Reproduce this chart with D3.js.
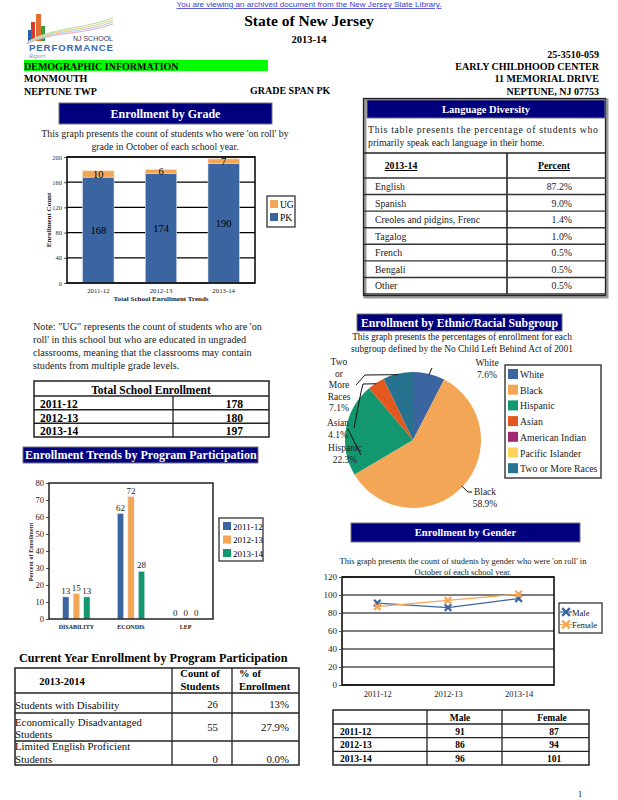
<!DOCTYPE html>
<html><head><meta charset="utf-8">
<script src="https://cdn.jsdelivr.net/npm/d3@7"></script>
<style>
html,body{margin:0;padding:0;background:#fff;}
svg{display:block;font-family:"Liberation Serif","Times New Roman",serif;}
</style></head><body>
<svg id="page" width="618" height="800"></svg>
<script>
// ---------- DATA ----------
const years = ["2011-12", "2012-13", "2013-14"];
const pkCounts = [168, 174, 190];
const ugCounts = [10, 6, 7];
const gradeTicks = [0, 40, 80, 120, 160, 200];
const totalEnrollment = [178, 180, 197];

const languages = ["English", "Spanish", "Creoles and pidgins, Frenc", "Tagalog", "French", "Bengali", "Other"];
const languagePct = ["87.2%", "9.0%", "1.4%", "1.0%", "0.5%", "0.5%", "0.5%"];

const programs = ["DISABILITY", "ECONDIS", "LEP"];
const program2011 = [13, 62, 0];
const program2012 = [15, 72, 0];
const program2013 = [13, 28, 0];
const programTicks = [0, 10, 20, 30, 40, 50, 60, 70, 80];

const ethnicGroups = ["White", "Black", "Hispanic", "Asian", "American Indian", "Pacific Islander", "Two or More Races"];
const ethnicPct = [7.6, 58.9, 22.3, 4.1, 0, 0, 7.1];

const maleCounts = [91, 86, 96];
const femaleCounts = [87, 94, 101];
const genderTicks = [0, 20, 40, 60, 80, 100, 120];

const currentPrograms = [["Students with Disability"], ["Economically Disadvantaged", "Students"], ["Limited English Proficient", "Students"]];
const currentCounts = [26, 55, 0];
const currentPct = ["13%", "27.9%", "0.0%"];

// ---------- STYLE ----------
const C = {
  blue: "#3b65a0", orange: "#f4a657", green: "#13976f", asian: "#e2581f",
  amind: "#a3286f", pacific: "#fdd25a", two: "#27728f", navy: "#00007f", frame: "#333"
};
const ethnicColors = [C.blue, C.orange, C.green, C.asian, C.amind, C.pacific, C.two];
const yearColors = [C.blue, C.orange, C.green];

const svg = d3.select("#page");
svg.append("rect").attr("width", 618).attr("height", 800).attr("fill", "#fff");

function txt(g, x, y, s, o = {}) {
  const t = g.append("text").attr("x", x).attr("y", y).text(s)
    .attr("font-size", o.size || 10)
    .attr("text-anchor", o.anchor || "start")
    .attr("fill", o.fill || "#000");
  if (o.bold) t.attr("font-weight", "bold");
  if (o.family) t.attr("font-family", o.family);
  if (o.underline) t.attr("text-decoration", "underline");
  if (o.italic) t.attr("font-style", "italic");
  if (o.len) t.attr("textLength", o.len).attr("lengthAdjust", "spacing");
  return t;
}
function line(g, x1, y1, x2, y2, w = 1.3, c = C.frame) {
  return g.append("line").attr("x1", x1).attr("y1", y1).attr("x2", x2).attr("y2", y2)
    .attr("stroke", c).attr("stroke-width", w);
}
function box(g, x, y, w, h, o = {}) {
  return g.append("rect").attr("x", x).attr("y", y).attr("width", w).attr("height", h)
    .attr("fill", o.fill || "none").attr("stroke", o.stroke || "none").attr("stroke-width", o.sw || 1);
}
function header(g, x, y, w, h, s, size, anchor = "middle") {
  box(g, x, y, w, h, { fill: C.navy, stroke: "#777", sw: 1 });
  const tx = anchor === "middle" ? x + w / 2 : x + 2;
  const clipId = "clip" + Math.round(x) + "_" + Math.round(y);
  g.append("clipPath").attr("id", clipId).append("rect").attr("x", x).attr("y", y).attr("width", w).attr("height", h);
  txt(g, tx, y + h / 2 + size * 0.36, s, { size, bold: true, fill: "#fff", anchor }).attr("clip-path", `url(#${clipId})`);
}

// ---------- PAGE HEADER ----------
const gTop = svg.append("g");
txt(gTop, 309, 7, "You are viewing an archived document from the New Jersey State Library.",
  { size: 8.1, anchor: "middle", fill: "#3a3ad8", family: "Liberation Sans, Arial, sans-serif", underline: true });

// logo
const logo = gTop.append("g");
[["#d43b2a", 31, 22, 4], ["#e36d2f", 36, 14, 5], ["#3c9b3a", 41, 26, 4], ["#2a5fb0", 28, 30, 3]].forEach(b => {
  box(logo, b[1], b[2], b[3], 41 - b[2], { fill: b[0] });
});
["#f0b0c0", "#a8d0f0", "#f3d080", "#c0e0b0"].forEach((c, i) => {
  logo.append("path").attr("d", `M${26 + i} ${44 - i} C 55 ${30 - i}, 80 ${36 - i * 2}, 113 ${24 - i * 2}`)
    .attr("fill", "none").attr("stroke", c).attr("stroke-width", 1.2);
});
txt(logo, 113, 41, "NJ SCHOOL", { size: 7, anchor: "end", fill: "#3a3a60", family: "Liberation Sans, Arial, sans-serif" });
txt(logo, 113, 51, "PERFORMANCE", { size: 9.6, bold: true, anchor: "end", fill: "#2f6cb8", family: "Liberation Sans, Arial, sans-serif", len: 84 });
txt(logo, 29, 58, "Report", { size: 6, italic: true, fill: "#8a90a8" });

txt(gTop, 309, 26, "State of New Jersey", { size: 15.5, bold: true, anchor: "middle" });
txt(gTop, 309, 43, "2013-14", { size: 10.5, bold: true, anchor: "middle" });
txt(gTop, 599, 58, "25-3510-059", { size: 10, bold: true, anchor: "end" });
box(gTop, 24, 60, 244, 11, { fill: "#00ff00" });
txt(gTop, 24, 69.5, "DEMOGRAPHIC INFORMATION", { size: 10, bold: true });
txt(gTop, 599, 70, "EARLY CHILDHOOD CENTER", { size: 10, bold: true, anchor: "end" });
txt(gTop, 24, 82, "MONMOUTH", { size: 10, bold: true });
txt(gTop, 599, 82, "11 MEMORIAL DRIVE", { size: 10, bold: true, anchor: "end" });
txt(gTop, 24, 95, "NEPTUNE TWP", { size: 10, bold: true });
txt(gTop, 250, 94, "GRADE SPAN PK", { size: 10, bold: true });
txt(gTop, 599, 95, "NEPTUNE, NJ 07753", { size: 10, bold: true, anchor: "end" });

// ---------- ENROLLMENT BY GRADE ----------
const gG = svg.append("g");
header(gG, 59, 103, 213, 21, "Enrollment by Grade", 12);
txt(gG, 165, 137, "This graph presents the count of students who were 'on roll' by", { size: 9.9, anchor: "middle", fill: "#222" });
txt(gG, 165, 150, "grade in October of each school year.", { size: 9.9, anchor: "middle", fill: "#222" });

const gx = d3.scaleBand().domain(years).range([67, 255]).paddingInner(0.5).paddingOuter(0.25);
const gy = d3.scaleLinear().domain([0, 200]).range([283, 157]);
gG.append("g").selectAll("line").data(gradeTicks).join("line")
  .attr("x1", 67).attr("x2", 255).attr("y1", d => gy(d)).attr("y2", d => gy(d))
  .attr("stroke", "#000").attr("stroke-width", 1.2);
const gAxis = gG.append("g").attr("transform", "translate(67,0)")
  .call(d3.axisLeft(gy).tickValues(gradeTicks).tickSize(3).tickPadding(2));
gAxis.select(".domain").remove();
gAxis.selectAll("text").attr("font-size", 6.5).attr("font-family", "Liberation Serif, serif").attr("fill", "#333");
gAxis.selectAll("line").attr("stroke", "#555");

const gBars = gG.append("g");
gBars.selectAll("rect.pk").data(years).join("rect").attr("class", "pk")
  .attr("x", d => gx(d)).attr("width", gx.bandwidth())
  .attr("y", (d, i) => gy(pkCounts[i])).attr("height", (d, i) => gy(0) - gy(pkCounts[i]))
  .attr("fill", C.blue).attr("stroke", "#cfd6e6").attr("stroke-width", 0.6);
gBars.selectAll("rect.ug").data(years).join("rect").attr("class", "ug")
  .attr("x", d => gx(d)).attr("width", gx.bandwidth())
  .attr("y", (d, i) => gy(pkCounts[i] + ugCounts[i])).attr("height", (d, i) => gy(pkCounts[i]) - gy(pkCounts[i] + ugCounts[i]))
  .attr("fill", C.orange).attr("stroke", "#f3d7b5").attr("stroke-width", 0.6);
gBars.selectAll("text.pk").data(years).join("text").attr("class", "pk")
  .attr("x", d => gx(d) + gx.bandwidth() / 2).attr("y", (d, i) => gy(pkCounts[i] / 2) + 4)
  .attr("text-anchor", "middle").attr("font-size", 10.5).text((d, i) => pkCounts[i]);
gBars.selectAll("text.ug").data(years).join("text").attr("class", "ug")
  .attr("x", d => gx(d) + gx.bandwidth() / 2).attr("y", (d, i) => gy(pkCounts[i] + ugCounts[i] / 2) + 4)
  .attr("text-anchor", "middle").attr("font-size", 10.5).text((d, i) => ugCounts[i]);
box(gG, 67, 157, 188, 126, { stroke: "#000", sw: 1.5 });
const gXAxis = gG.append("g").attr("transform", "translate(0,283)").call(d3.axisBottom(gx).tickSize(0).tickPadding(5));
gXAxis.select(".domain").remove();
gXAxis.selectAll("text").attr("font-size", 6.8).attr("font-family", "Liberation Serif, serif").attr("fill", "#222");
txt(gG, 161, 301, "Total School Enrollment Trends", { size: 7, bold: true, anchor: "middle", fill: "#222" });
txt(gG, 0, 0, "Enrollment Count", { size: 7, bold: true, anchor: "middle", fill: "#222" })
  .attr("transform", "translate(51,220) rotate(-90)");
box(gG, 267, 196, 28, 31, { stroke: C.frame, sw: 1.3, fill: "#fff" });
[["UG", C.orange], ["PK", C.blue]].forEach((d, i) => {
  box(gG, 270, 200 + i * 13, 8, 8, { fill: d[1] });
  txt(gG, 280, 207.5 + i * 13, d[0], { size: 9.5 });
});

// ---------- LANGUAGE DIVERSITY ----------
const gL = svg.append("g");
box(gL, 365, 100, 242, 197, { fill: "#fff", stroke: "#9a9a9a", sw: 3 });
box(gL, 363.5, 98.5, 242, 197, { stroke: "#222", sw: 1.3 });
header(gL, 367, 100, 238, 18, "Language Diversity", 10.5);
txt(gL, 368, 133, "This table presents the percentage of students who", { size: 9.8, len: 230, fill: "#222" });
txt(gL, 368, 146, "primarily speak each language in their home.", { size: 9.8, fill: "#222" });
line(gL, 364, 153, 606, 153, 1.6, "#222");
line(gL, 507, 153, 507, 294, 1.6, "#222");
txt(gL, 401, 169, "2013-14", { size: 9.8, bold: true, anchor: "middle", underline: true });
txt(gL, 554, 169, "Percent", { size: 9.8, bold: true, anchor: "middle", underline: true });
const rowY = d3.scaleBand().domain(languages).range([178, 294]);
gL.selectAll("line.row").data([null, ...languages]).join("line").attr("class", "row")
  .attr("x1", 364).attr("x2", 606)
  .attr("y1", (d, i) => i === 0 ? 178 : rowY(d) + rowY.bandwidth())
  .attr("y2", (d, i) => i === 0 ? 178 : rowY(d) + rowY.bandwidth())
  .attr("stroke", "#333").attr("stroke-width", 1.4);
gL.selectAll("text.lang").data(languages).join("text").attr("class", "lang")
  .attr("x", 375).attr("y", d => rowY(d) + 12).attr("font-size", 9.8).attr("fill", "#222").text(d => d);
gL.selectAll("text.pct").data(languages).join("text").attr("class", "pct")
  .attr("x", 572).attr("y", d => rowY(d) + 12).attr("font-size", 9.8).attr("fill", "#222")
  .attr("text-anchor", "end").text((d, i) => languagePct[i]);

// ---------- NOTE + TOTAL ENROLLMENT ----------
const gN = svg.append("g");
["Note: \"UG\" represents the count of students who are 'on",
  "roll' in this school but who are educated in ungraded",
  "classrooms, meaning that the classrooms may contain",
  "students from multiple grade levels."].forEach((s, i) => txt(gN, 33, 330 + i * 13, s, { size: 10.2, fill: "#222" }));
box(gN, 34, 381, 235, 56, { stroke: "#222", sw: 1.5 });
txt(gN, 151, 394, "Total School Enrollment", { size: 11.5, bold: true, anchor: "middle" });
const teY = d3.scaleBand().domain(years).range([396, 437]);
gN.selectAll("line.te").data(years).join("line").attr("class", "te")
  .attr("x1", 34).attr("x2", 269).attr("y1", d => teY(d)).attr("y2", d => teY(d))
  .attr("stroke", "#222").attr("stroke-width", 1.5);
line(gN, 173, 396, 173, 437, 1.3, "#222");
gN.selectAll("text.ty").data(years).join("text").attr("class", "ty")
  .attr("x", 40).attr("y", d => teY(d) + 12).attr("font-size", 11.5).attr("font-weight", "bold").text(d => d);
gN.selectAll("text.tv").data(years).join("text").attr("class", "tv")
  .attr("x", 243).attr("y", d => teY(d) + 12).attr("font-size", 11.5).attr("font-weight", "bold")
  .attr("text-anchor", "end").text((d, i) => totalEnrollment[i]);

// ---------- ENROLLMENT TRENDS BY PROGRAM ----------
const gP = svg.append("g");
header(gP, 23, 447, 235, 16, "Enrollment Trends by Program Participation", 12, "start");
const px = d3.scaleBand().domain(programs).range([49, 213]).paddingInner(0.5).paddingOuter(0.25);
const pxs = d3.scaleBand().domain(years).range([0, px.bandwidth()]).paddingInner(0.4);
const py = d3.scaleLinear().domain([0, 80]).range([619, 483]);
const pAxis = gP.append("g").attr("transform", "translate(49,0)")
  .call(d3.axisLeft(py).tickValues(programTicks).tickSize(3).tickPadding(2));
pAxis.select(".domain").remove();
pAxis.selectAll("text").attr("font-size", 8.5).attr("font-family", "Liberation Serif, serif").attr("fill", "#222");
pAxis.selectAll("line").attr("stroke", "#555");
const progSeries = [program2011, program2012, program2013];
const pGroups = gP.append("g").selectAll("g").data(programs).join("g")
  .attr("transform", d => `translate(${px(d)},0)`);
pGroups.selectAll("rect").data((d, i) => progSeries.map((s, j) => ({ y: years[j], v: s[i] }))).join("rect")
  .attr("x", d => pxs(d.y)).attr("width", pxs.bandwidth())
  .attr("y", d => py(d.v)).attr("height", d => py(0) - py(d.v))
  .attr("fill", (d, j) => yearColors[j]).attr("stroke", "#e5e5ee").attr("stroke-width", 0.5);
pGroups.selectAll("text").data((d, i) => progSeries.map((s, j) => ({ y: years[j], v: s[i] }))).join("text")
  .attr("x", d => pxs(d.y) + pxs.bandwidth() / 2).attr("y", d => py(d.v) - 3)
  .attr("text-anchor", "middle").attr("font-size", 9).attr("fill", "#222").text(d => d.v);
box(gP, 49, 483, 164, 136, { stroke: "#222", sw: 1.5 });
const pX = gP.append("g").attr("transform", "translate(0,619)").call(d3.axisBottom(px).tickSize(0).tickPadding(6));
pX.select(".domain").remove();
pX.selectAll("text").attr("font-size", 6).attr("font-weight", "bold").attr("font-family", "Liberation Serif, serif").attr("fill", "#222");
txt(gP, 0, 0, "Percent of Enrollment", { size: 6.2, bold: true, anchor: "middle", fill: "#222" })
  .attr("transform", "translate(33,552) rotate(-90)");
box(gP, 219, 518, 44, 43, { stroke: C.frame, sw: 1.3, fill: "#fff" });
years.forEach((y, i) => {
  box(gP, 223, 522 + i * 13.5, 8, 8, { fill: yearColors[i] });
  txt(gP, 233, 529.5 + i * 13.5, y, { size: 9 });
});

// ---------- CURRENT YEAR TABLE ----------
const gC = svg.append("g");
txt(gC, 19, 662, "Current Year Enrollment by Program Participation", { size: 12.2, bold: true });
box(gC, 15, 668, 284, 97, { stroke: "#222", sw: 1.5 });
line(gC, 172, 668, 172, 765, 1.3, "#222");
line(gC, 232, 668, 232, 765, 1.3, "#222");
const cRows = [693, 713, 741, 765];
cRows.slice(0, 3).forEach(y => line(gC, 15, y, 299, y, 1.4, "#222"));
txt(gC, 62, 685, "2013-2014", { size: 10.5, bold: true, anchor: "middle" });
txt(gC, 200, 677, "Count of", { size: 10.5, bold: true, anchor: "middle" });
txt(gC, 200, 690, "Students", { size: 10.5, bold: true, anchor: "middle" });
txt(gC, 239, 677, "% of", { size: 10.5, bold: true });
txt(gC, 239, 690, "Enrollment", { size: 10.5, bold: true });
const cTextY = [[709], [725.5, 737.5], [750, 762.5]];
const cValY = [708, 731, 763];
currentPrograms.forEach((lines, i) => {
  lines.forEach((s, k) => txt(gC, 15, cTextY[i][k], s, { size: 10.8, fill: "#111" }));
  txt(gC, 218, cValY[i], currentCounts[i], { size: 10.8, anchor: "end", fill: "#111" });
  txt(gC, 289, cValY[i], currentPct[i], { size: 10.8, anchor: "end", fill: "#111" });
});

// ---------- ETHNIC PIE ----------
const gE = svg.append("g");
header(gE, 357, 314, 205, 17, "Enrollment by Ethnic/Racial Subgroup", 11.8);
txt(gE, 462, 340, "This graph presents the percentages of enrollment for each", { size: 9.4, anchor: "middle", fill: "#222" });
txt(gE, 462, 352, "subgroup defined by the No Child Left Behind Act of 2001", { size: 9.4, anchor: "middle", fill: "#222" });
const cx = 413, cy = 440, R = 68;
const pie = d3.pie().sort(null).value(d => d)(ethnicPct);
const arc = d3.arc().innerRadius(0).outerRadius(R);
const pg = gE.append("g").attr("transform", `translate(${cx},${cy})`);
pg.selectAll("path").data(pie).join("path").attr("d", arc).attr("fill", (d, i) => ethnicColors[i]);
function edgePt(i, r = R) {
  const a = (pie[i].startAngle + pie[i].endAngle) / 2;
  return [cx + r * Math.sin(a), cy - r * Math.cos(a)];
}
const pieLabels = [
  { i: 0, lines: ["White", "7.6%"], x: 487, y: 366, via: [[432, 368]] },
  { i: 1, lines: ["Black", "58.9%"], x: 485, y: 495, via: [[468, 492], [472, 492]] },
  { i: 6, lines: ["Two", "or", "More", "Races", "7.1%"], x: 339, y: 365, via: [[365, 375], [356, 385]] },
  { i: 3, lines: ["Asian", "4.1%"], x: 338, y: 426, via: [[363, 384], [361, 392], [354, 428]] },
  { i: 2, lines: ["Hispanic", "22.3%"], x: 345, y: 451, via: [[361, 455]] }
];
pieLabels.forEach(L => {
  const p0 = edgePt(L.i, L.i === 2 ? R - 2 : R - 1);
  gE.append("path").attr("d", d3.line()([p0, ...L.via])).attr("fill", "none").attr("stroke", "#111").attr("stroke-width", 1);
  L.lines.forEach((s, k) => txt(gE, L.x, L.y + k * 11.5, s, { size: 9.5, anchor: "middle", fill: "#222" }));
});
box(gE, 505, 365, 96, 113, { stroke: C.frame, sw: 1.4, fill: "#fff" });
ethnicGroups.forEach((g, i) => {
  box(gE, 508, 369 + i * 15.7, 10, 10, { fill: ethnicColors[i] });
  txt(gE, 520, 378 + i * 15.7, g, { size: 9.8, fill: "#222" });
});

// ---------- GENDER ----------
const gD = svg.append("g");
header(gD, 351, 523, 229, 19, "Enrollment by Gender", 10.5);
txt(gD, 463, 564, "This graph presents the count of students by gender who were 'on roll' in", { size: 8.5, anchor: "middle", fill: "#222" });
txt(gD, 463, 575, "October of each school year.", { size: 8.5, anchor: "middle", fill: "#222" });
const dx = d3.scalePoint().domain(years).range([342, 554]).padding(0.5);
const dy = d3.scaleLinear().domain([0, 120]).range([685, 577]);
gD.append("g").selectAll("line").data(genderTicks).join("line")
  .attr("x1", 342).attr("x2", 554).attr("y1", d => dy(d)).attr("y2", d => dy(d))
  .attr("stroke", "#000").attr("stroke-width", 1.2);
box(gD, 342, 577, 212, 108, { stroke: "#000", sw: 1.5 });
const dAxis = gD.append("g").attr("transform", "translate(342,0)")
  .call(d3.axisLeft(dy).tickValues(genderTicks).tickSize(3).tickPadding(2));
dAxis.select(".domain").remove();
dAxis.selectAll("text").attr("font-size", 9).attr("font-family", "Liberation Serif, serif").attr("fill", "#222");
dAxis.selectAll("line").attr("stroke", "#555");
const dX = gD.append("g").attr("transform", "translate(0,685)").call(d3.axisBottom(dx).tickSize(0).tickPadding(6));
dX.select(".domain").remove();
dX.selectAll("text").attr("font-size", 8.5).attr("font-family", "Liberation Serif, serif").attr("fill", "#222");
const lineGen = d3.line().x((d, i) => dx(years[i])).y(d => dy(d));
const xSym = d3.symbol(d3.symbolX, 30);
[[maleCounts, C.blue], [femaleCounts, C.orange]].forEach(([s, c]) => {
  gD.append("path").attr("d", lineGen(s)).attr("fill", "none").attr("stroke", c).attr("stroke-width", 1.3);
  gD.append("g").selectAll("path").data(s).join("path")
    .attr("transform", (d, i) => `translate(${dx(years[i])},${dy(d)})`)
    .attr("d", xSym).attr("fill", "none").attr("stroke", c).attr("stroke-width", 2.2);
});
box(gD, 559, 603, 43, 30, { stroke: C.frame, sw: 1.3, fill: "#fff" });
[["Male", C.blue], ["Female", C.orange]].forEach((d, i) => {
  gD.append("path").attr("transform", `translate(566,${612 + i * 12.5})`).attr("d", d3.symbol(d3.symbolX, 40))
    .attr("fill", "none").attr("stroke", d[1]).attr("stroke-width", 2.4);
  line(gD, 560, 612 + i * 12.5, 572, 612 + i * 12.5, 1.2, d[1]);
  txt(gD, 572, 615.5 + i * 12.5, d[0], { size: 8.5, fill: "#222" });
});

// gender table
const gT = svg.append("g");
box(gT, 333, 710, 256, 55, { stroke: "#222", sw: 1.5 });
line(gT, 427, 710, 427, 765, 1.3, "#222");
line(gT, 502, 710, 502, 765, 1.3, "#222");
const gtY = d3.scaleBand().domain(years).range([724, 765]);
gT.selectAll("line.r").data(years).join("line").attr("class", "r")
  .attr("x1", 333).attr("x2", 589).attr("y1", d => gtY(d)).attr("y2", d => gtY(d))
  .attr("stroke", "#222").attr("stroke-width", 1.4);
txt(gT, 460, 721, "Male", { size: 9.5, bold: true, anchor: "middle" });
txt(gT, 552, 721, "Female", { size: 9.5, bold: true, anchor: "middle" });
years.forEach((y, i) => {
  const by = gtY(y) + 10.5;
  txt(gT, 340, by, y, { size: 9.5, bold: true });
  txt(gT, 460, by, maleCounts[i], { size: 9.5, bold: true, anchor: "middle" });
  txt(gT, 554, by, femaleCounts[i], { size: 9.5, bold: true, anchor: "middle" });
});
txt(svg, 578, 797, "1", { size: 8 });
</script>
</body></html>
